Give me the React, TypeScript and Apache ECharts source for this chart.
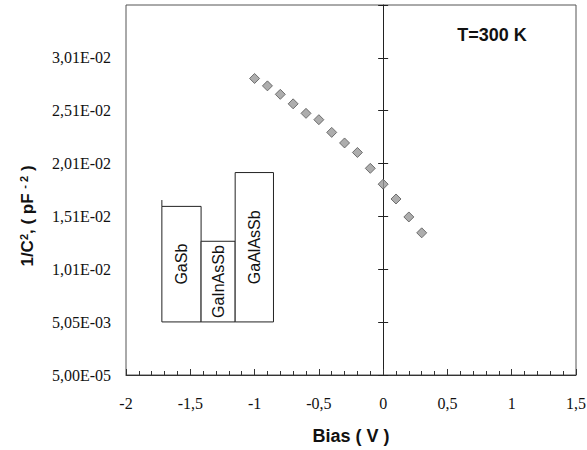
import React, { useEffect, useRef } from "react";
import * as echarts from "echarts";

// Measured C-V data (bias in V, 1/C^2 in pF^-2)
const biasV = [-1.0, -0.9, -0.8, -0.7, -0.6, -0.5, -0.4, -0.3, -0.2, -0.1, 0.0, 0.1, 0.2, 0.3];
const invC2 = [0.0281, 0.0274, 0.0266, 0.0257, 0.0248, 0.0242, 0.0230, 0.0220, 0.0211, 0.0196, 0.0181, 0.0167, 0.0150, 0.0135];

// Y tick labels (Excel style)
const yTickLabels = ["5,00E-05", "5,05E-03", "1,01E-02", "1,51E-02", "2,01E-02", "2,51E-02", "3,01E-02"];
const xTickLabels = ["-2", "-1,5", "-1", "-0,5", "0", "0,5", "1", "1,5"];

// Band diagram inset (layer name, x start, x end, top, bottom, left-edge top)
const layerNames = ["GaSb", "GaInAsSb", "GaAlAsSb"];
const layerX0 = [-1.721, -1.416, -1.151];
const layerX1 = [-1.416, -1.151, -0.853];
const layerTop = [0.0160, 0.0127, 0.0192];
const layerBottom = [0.00507, 0.00507, 0.00507];
const layerStub = [0.0166, 0.0127, 0.0192];

const Y_MIN = 0.00005;
const Y_INT = 0.005;
const Y_MAX = 0.03505;

export default function App() {
  const ref = useRef<HTMLDivElement>(null);

  useEffect(() => {
    if (!ref.current) return;
    const chart = echarts.init(ref.current, null, { renderer: "svg" });
    const serif = "Liberation Serif";
    const sans = "Liberation Sans";

    const yTickAxisBase = {
      type: "value",
      position: "left",
      min: Y_MIN,
      max: Y_MAX,
      interval: Y_INT,
      splitLine: { show: false },
      axisLabel: { show: false },
    };

    const option: any = {
      animation: false,
      backgroundColor: "#ffffff",
      grid: {
        left: 126,
        top: 5,
        right: 11,
        bottom: 75,
        outerBoundsMode: "none",
        containLabel: false,
        show: true,
        borderColor: "#555",
        borderWidth: 1,
        backgroundColor: "transparent",
      },
      xAxis: {
        type: "value",
        min: -2,
        max: 1.5,
        interval: 0.5,
        name: "Bias ( V )",
        nameLocation: "middle",
        nameGap: 52,
        nameTextStyle: { fontFamily: sans, fontWeight: "bold", fontSize: 18, color: "#111" },
        axisLine: { show: true, onZero: false, lineStyle: { color: "#333", width: 1 } },
        axisTick: { show: true, inside: true, length: 6, lineStyle: { color: "#333", width: 1 } },
        minorTick: { show: true, splitNumber: 5, length: 4, lineStyle: { color: "#333", width: 1 } },
        splitLine: { show: false },
        axisLabel: {
          margin: 20,
          fontFamily: serif,
          fontSize: 16,
          color: "#111",
          formatter: (v: number) => {
            const k = Math.round((v + 2) / 0.5);
            return xTickLabels[k] ?? "";
          },
        },
      },
      yAxis: [
        {
          type: "value",
          position: "left",
          min: Y_MIN,
          max: Y_MAX,
          interval: Y_INT,
          axisLine: { show: false, onZero: false },
          axisTick: { show: false },
          splitLine: { show: false },
          axisLabel: {
            margin: 15,
            fontFamily: serif,
            fontSize: 16,
            color: "#111",
            showMaxLabel: false,
            formatter: (v: number) => {
              const k = Math.round((v - Y_MIN) / Y_INT);
              return k < yTickLabels.length ? yTickLabels[k] : "";
            },
          },
        },
        {
          ...yTickAxisBase,
          axisLine: { show: true, onZero: true, onZeroAxisIndex: 0, lineStyle: { color: "#222", width: 1 } },
          axisTick: { show: true, inside: true, length: 5, lineStyle: { color: "#222" } },
        },
        {
          ...yTickAxisBase,
          axisLine: { show: false, onZero: true, onZeroAxisIndex: 0 },
          axisTick: { show: true, inside: false, length: 5, lineStyle: { color: "#222" } },
        },
      ],
      series: [
        {
          type: "custom",
          xAxisIndex: 0,
          yAxisIndex: 0,
          z: 2,
          data: layerNames.map((n, i) => ({
            name: n,
            value: [layerX0[i], layerX1[i], layerTop[i], layerBottom[i], layerStub[i]],
          })),
          renderItem: (params: any, api: any) => {
            const x0 = api.value(0), x1 = api.value(1), top = api.value(2), bot = api.value(3), stub = api.value(4);
            const p0 = api.coord([x0, top]);
            const p1 = api.coord([x1, bot]);
            const ps = api.coord([x0, stub]);
            const name = layerNames[params.dataIndex];
            const children: any[] = [
              {
                type: "rect",
                shape: { x: p0[0], y: p0[1], width: p1[0] - p0[0], height: p1[1] - p0[1] },
                style: { fill: "#fff", stroke: "#222", lineWidth: 1 },
              },
              {
                type: "line",
                shape: { x1: p0[0], y1: ps[1], x2: p0[0], y2: p0[1] },
                style: { stroke: "#222", lineWidth: 1 },
              },
              {
                type: "text",
                x: (p0[0] + p1[0]) / 2,
                y: (p0[1] + p1[1]) / 2,
                rotation: Math.PI / 2,
                style: {
                  text: name,
                  fontFamily: sans,
                  fontSize: 16,
                  fill: "#111",
                  align: "center",
                  verticalAlign: "middle",
                },
              },
            ];
            return { type: "group", children };
          },
        },
        {
          type: "scatter",
          xAxisIndex: 0,
          yAxisIndex: 0,
          z: 5,
          symbol: "diamond",
          symbolSize: 10,
          itemStyle: { color: "#999", borderColor: "#555", borderWidth: 1 },
          data: biasV.map((x, i) => [x, invC2[i]]),
        },
      ],
      graphic: [
        {
          type: "text",
          x: 492,
          y: 35,
          style: {
            text: "T=300 K",
            fontFamily: sans,
            fontWeight: "bold",
            fontSize: 18,
            fill: "#111",
            align: "center",
            verticalAlign: "middle",
          },
        },
        {
          type: "text",
          x: 27,
          y: 216,
          rotation: Math.PI / 2,
          style: {
            text: "1/C{sup|2}, ( pF {sup|- 2} )",
            fontFamily: sans,
            fontWeight: "bold",
            fontSize: 17,
            fill: "#111",
            align: "center",
            verticalAlign: "middle",
            rich: {
              sup: { fontFamily: sans, fontWeight: "bold", fontSize: 11, verticalAlign: "top", fill: "#111" },
            },
          },
        },
      ],
    };

    chart.setOption(option);
    return () => chart.dispose();
  }, []);

  return (
    <div
      ref={ref}
      style={{ position: "absolute", left: 0, top: 0, width: 587, height: 450 }}
    />
  );
}
